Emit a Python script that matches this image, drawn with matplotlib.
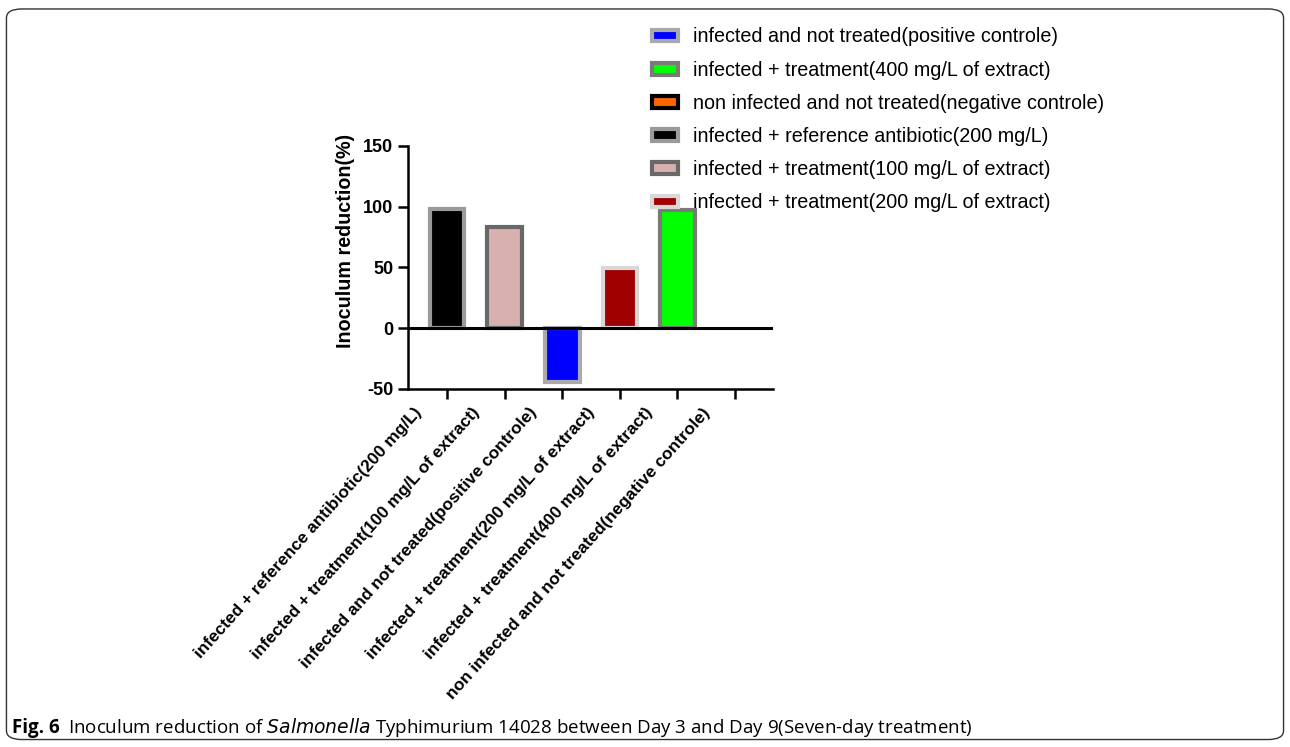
import matplotlib.pyplot as plt
from matplotlib.patches import Patch, FancyBboxPatch

categories = [
    'infected + reference antibiotic(200 mg/L)',
    'infected + treatment(100 mg/L of extract)',
    'infected and not treated(positive controle)',
    'infected + treatment(200 mg/L of extract)',
    'infected + treatment(400 mg/L of extract)',
    'non infected and not treated(negative controle)',
]
values = [98, 83, -44, 49.5, 97, 0]
fill_colors = ['#000000', '#d8b0b0', '#0000ff', '#a00000', '#00ff00', '#ff6600']
edge_colors = ['#9a9a9a', '#686868', '#aaaaaa', '#d8d8d8', '#7a7a7a', '#000000']
legend_order = [2, 4, 5, 0, 1, 3]
yticks = [-50, 0, 50, 100, 150]

plt.rcParams['font.family'] = ['Liberation Sans', 'DejaVu Sans']

fig = plt.figure(figsize=(12.9, 7.47), dpi=100)
ax = fig.add_axes([0.3163, 0.4793, 0.2829, 0.3253])

x = list(range(len(categories)))
# zero-height bar gets no outline so it hides under the zero line
lws = [3 if v != 0 else 0 for v in values]
ax.bar(x, values, width=0.6, color=fill_colors, edgecolor=edge_colors,
       linewidth=lws, zorder=3)
ax.axhline(0, color='black', lw=2.2, zorder=4)

ax.set_xlim(-0.68, 5.66)
ax.set_ylim(-50, 150)
ax.set_yticks(yticks)
ax.set_yticklabels([str(v) for v in yticks], fontsize=13, fontweight='bold')
ax.set_xticks(x)
ax.set_xticklabels([])
# category labels, slanted and set a bit left of their ticks
for i, cat in enumerate(categories):
    ax.annotate(cat, xy=(i, 0), xycoords=ax.get_xaxis_transform(),
                xytext=(-24, -11.5), textcoords='offset points',
                rotation=48, ha='right', va='top', rotation_mode='anchor',
                fontsize=12.4, fontweight='bold')
ax.set_ylabel('Inoculum reduction(%)', fontsize=14.2, fontweight='bold')
ax.yaxis.set_label_coords(-0.145, 0.61)
for s in ['top', 'right']:
    ax.spines[s].set_visible(False)
for s in ['left', 'bottom']:
    ax.spines[s].set_linewidth(1.8)
ax.tick_params(axis='both', width=1.8, length=7, direction='out')

handles = [Patch(facecolor=fill_colors[i], edgecolor=edge_colors[i], linewidth=3)
           for i in legend_order]
labels = [categories[i] for i in legend_order]
fig.legend(handles, labels, loc='upper left', bbox_to_anchor=(0.492, 0.987),
           frameon=False, fontsize=14.2, handlelength=1.3, handleheight=0.55,
           labelspacing=0.72, handletextpad=0.75)

frame = FancyBboxPatch((0.005, 0.01), 0.99, 0.978, boxstyle='round,pad=0,rounding_size=0.012',
                       transform=fig.transFigure, fill=False, edgecolor='#333333', lw=1)
fig.patches.append(frame)

fig.text(0.009, 0.019, 'Fig. 6', fontsize=13.5, fontweight='bold',
         family=['Open Sans', 'DejaVu Sans'])
fig.text(0.053, 0.019, 'Inoculum reduction of $\\it{Salmonella}$ Typhimurium 14028 between Day 3 and Day 9(Seven-day treatment)',
         fontsize=13.5, family=['Open Sans', 'DejaVu Sans'])

fig.savefig('out.png', dpi=100)
